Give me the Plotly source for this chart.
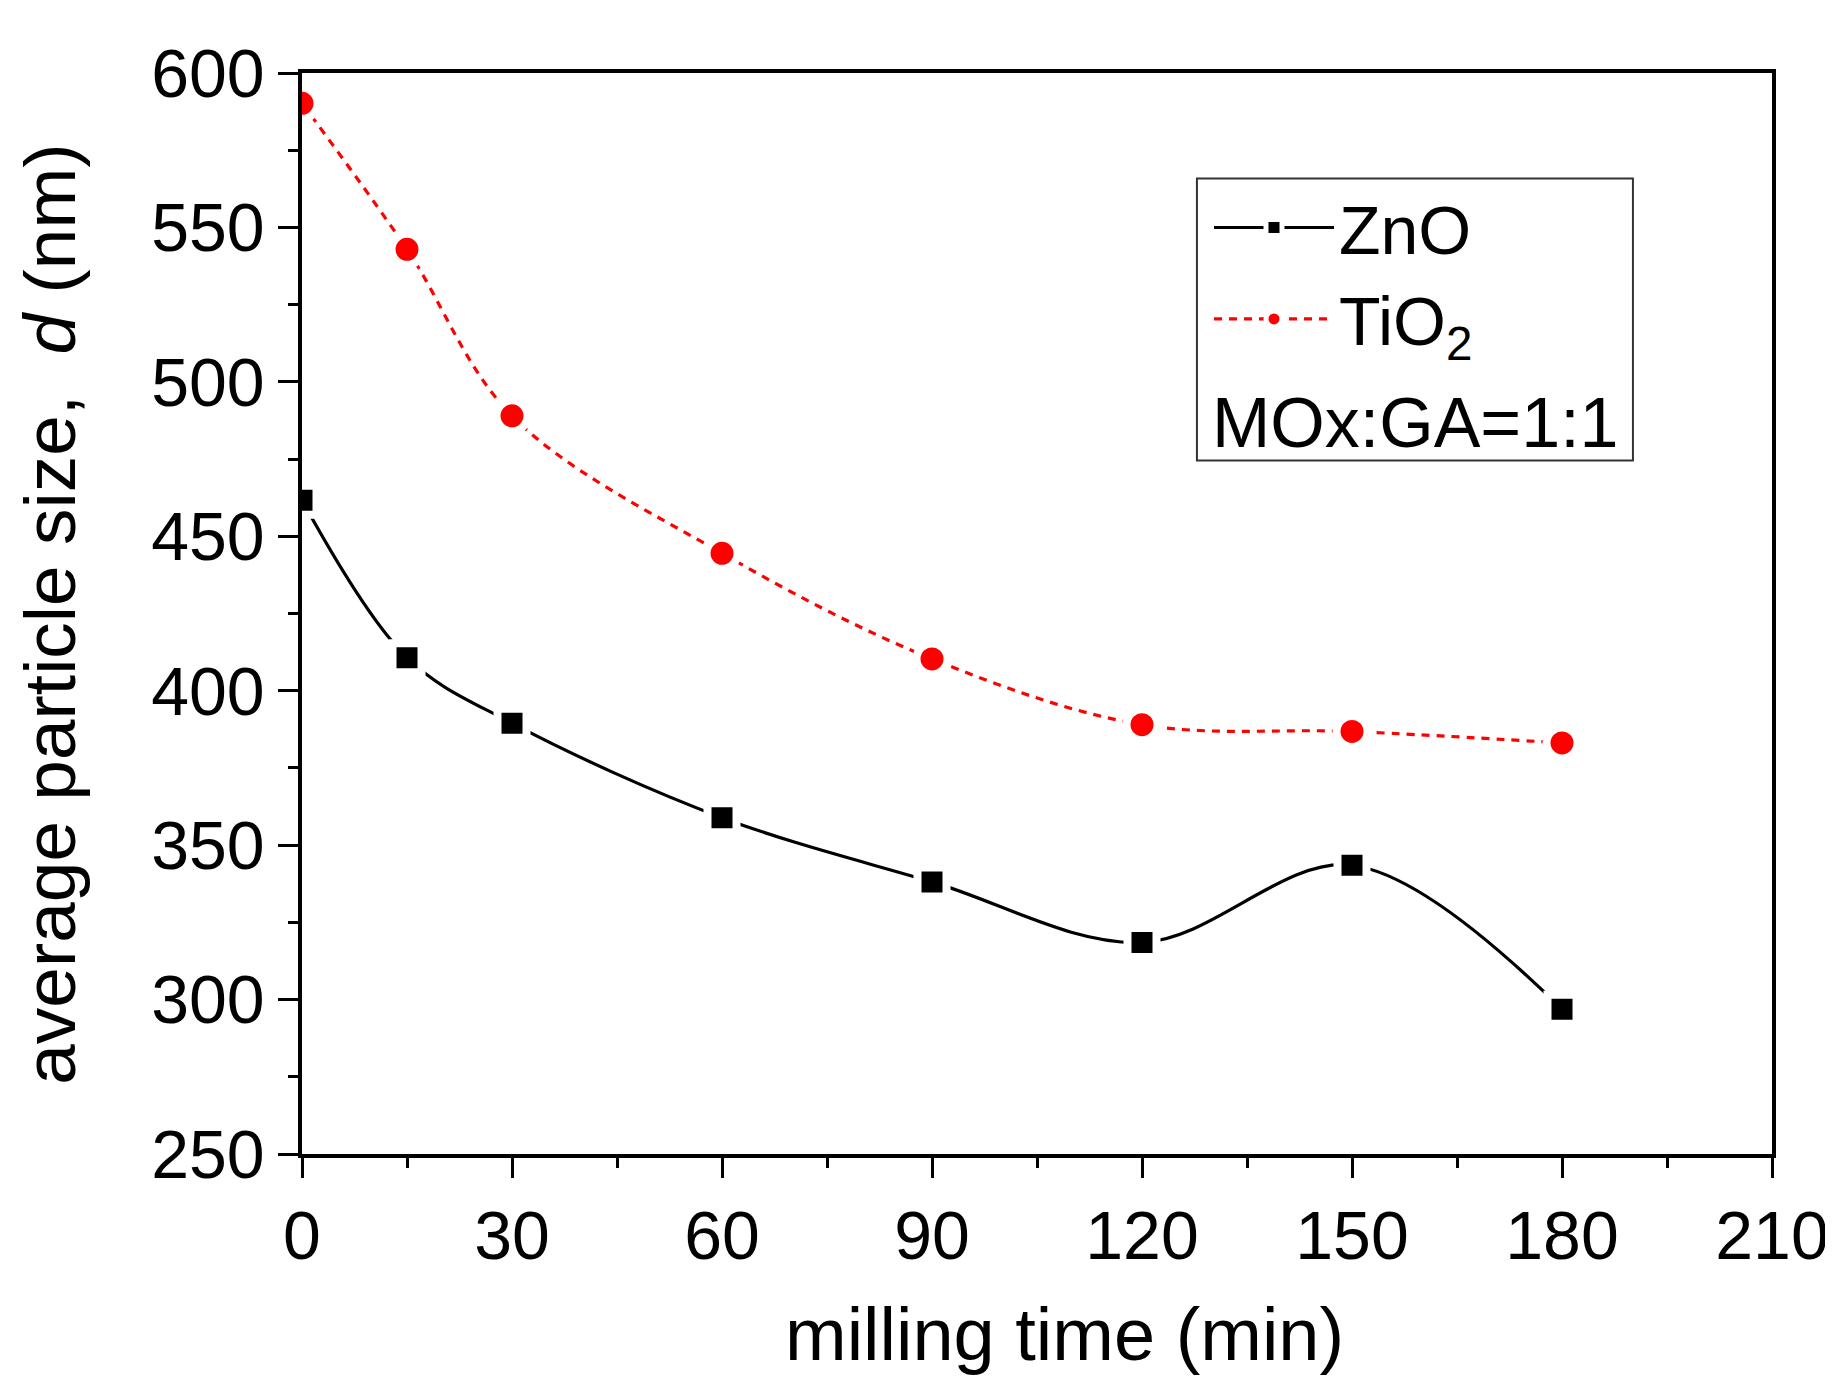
import plotly.graph_objects as go

milling_time = [0, 15, 30, 60, 90, 120, 150, 180]
zno_size = [461.7, 410.7, 389.5, 358.9, 338.1, 318.5, 343.5, 296.9]
tio2_size = [590.2, 542.9, 489.0, 444.5, 410.3, 389.0, 386.8, 383.1]

x_ticks = [0, 30, 60, 90, 120, 150, 180, 210]
y_ticks = [250, 300, 350, 400, 450, 500, 550, 600]

FONT = "Liberation Sans, Arial, sans-serif"

fig = go.Figure()
fig.add_trace(go.Scatter(
    x=milling_time, y=zno_size, name="ZnO",
    mode="lines+markers",
    line=dict(color="black", width=3.2, shape="spline", smoothing=1.0),
    marker=dict(symbol="square", size=29, color="black",
                line=dict(color="white", width=8)),
))
fig.add_trace(go.Scatter(
    x=milling_time, y=tio2_size, name="TiO<sub>2</sub>",
    mode="lines+markers",
    line=dict(color="#ff0000", width=3.2, shape="spline", smoothing=1.0, dash="8px,7px"),
    marker=dict(symbol="circle", size=31, color="#ff0000",
                line=dict(color="white", width=8)),
))

axis_common = dict(
    showline=True, linecolor="black", linewidth=3.5, mirror=True,
    ticks="outside", ticklen=20, tickwidth=3, tickcolor="black",
    showgrid=False, zeroline=False, automargin=False,
    tickfont=dict(family=FONT, size=68, color="black"),
)

fig.update_xaxes(
    range=[0, 210], tickvals=x_ticks, ticktext=[str(v) for v in x_ticks],
    minor=dict(dtick=15, tick0=0, ticks="outside", ticklen=10, tickwidth=3, tickcolor="black"),
    **axis_common,
)
fig.update_yaxes(
    range=[250, 600], tickvals=y_ticks, ticktext=[str(v) for v in y_ticks],
    minor=dict(dtick=25, tick0=250, ticks="outside", ticklen=10, tickwidth=3, tickcolor="black"),
    **axis_common,
)

# axis titles
fig.add_annotation(xref="paper", yref="paper", x=0.519, y=-0.1674,
                   text="milling time (min)", showarrow=False,
                   xanchor="center", yanchor="middle",
                   font=dict(family=FONT, size=74, color="black"))
fig.add_annotation(xref="paper", yref="paper", x=-0.172, y=0.499,
                   text="average particle size,  <i>d</i> (nm)", showarrow=False,
                   textangle=-90, xanchor="center", yanchor="middle",
                   font=dict(family=FONT, size=73, color="black"))

# legend box and note
fig.add_shape(type="rect", xref="paper", yref="paper",
              x0=0.6088, x1=0.9054, y0=0.6415, y1=0.9025,
              line=dict(color="#333333", width=2), fillcolor="rgba(0,0,0,0)")
fig.add_annotation(xref="paper", yref="paper", x=0.7575, y=0.6760,
                   text="MOx:GA=1:1", showarrow=False, xanchor="center", yanchor="middle",
                   font=dict(family=FONT, size=70, color="black"))

fig.update_layout(
    width=1825, height=1371,
    margin=dict(l=294, r=61, t=65, b=225),
    paper_bgcolor="white", plot_bgcolor="white",
    showlegend=True,
    legend=dict(x=0.617, y=0.904, xanchor="left", yanchor="top",
                bgcolor="rgba(0,0,0,0)", borderwidth=0,
                font=dict(family=FONT, size=68, color="black"),
                itemwidth=120, tracegroupgap=0),
    font=dict(family=FONT, color="black"),
)

fig.write_html("out.html")
